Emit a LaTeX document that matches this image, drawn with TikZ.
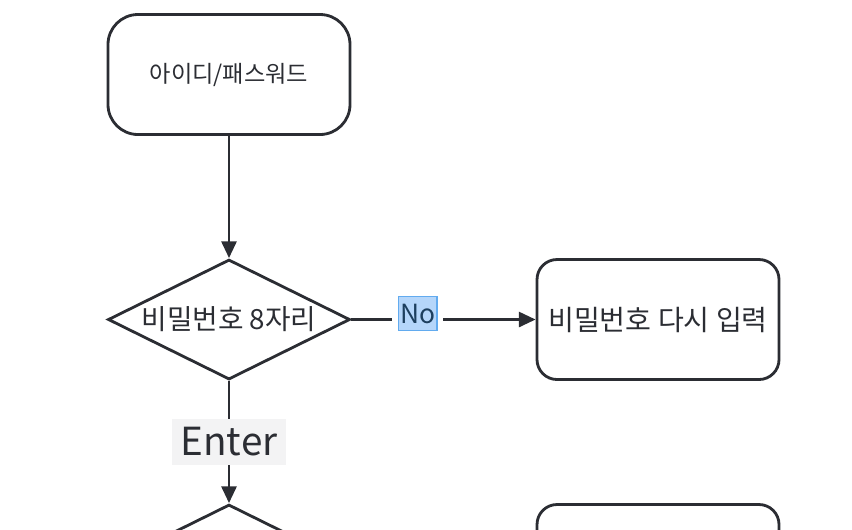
\documentclass[tikz,border=0pt]{standalone}
\usepackage{fontspec}
\setmainfont{Noto Sans CJK KR}
\usepackage{xcolor}
\usepackage{tikz}
\usetikzlibrary{positioning,shapes.geometric,arrows.meta}
\definecolor{ink}{HTML}{2B2D33}
\definecolor{nofill}{HTML}{B5D6FA}
\definecolor{noline}{HTML}{62ABEF}
\definecolor{notext}{HTML}{1D3F5E}
\definecolor{enterfill}{HTML}{F3F3F4}

\begin{document}
\begin{tikzpicture}[auto,color=ink,line width=1.6pt,>={Triangle[length=9.5pt,width=8.5pt]},
    every node/.style={on grid,node distance=4.9cm},
    box/.style={draw,rectangle,rounded corners=0.4cm,minimum width=4.84cm,minimum height=2.4cm,font=\fontsize{16}{18}\selectfont},
    test/.style={draw,diamond,aspect=2,inner sep=0pt,minimum width=4.84cm,minimum height=2.4cm,font=\fontsize{15.8}{18}\selectfont},
    notag/.style={auto=false,fill=nofill,draw=noline,line width=0.6pt,inner xsep=1pt,inner ysep=0pt,minimum height=0.68cm,
      text=notext,preaction={draw=white,line width=7pt},font=\fontsize{15}{17}\selectfont},
    entertag/.style={auto=false,fill=enterfill,inner xsep=5pt,minimum height=0.92cm,font=\fontsize{22}{24}\selectfont}]
    \useasboundingbox (0,0) rectangle (17.04,-10.58);
    \clip (0,0) rectangle (17.04,-10.58);
    \node[box,rounded corners=0.6cm,font=\fontsize{13.2}{15}\selectfont] (pw) at (4.58,-1.49) {아이디/패스워드};
    \node[test,below of=pw] (check) {비밀번호 8자리};
    \node[box,right of=check,node distance=8.58cm] (retry) {비밀번호 다시 입력};
    \node[test,below of=check] (next) {};
    \node[box,right of=next,node distance=8.58cm] (nextbox) {};
    \draw[->] (pw) -- (check);
    \draw[->] (check) -- node[notag,pos=0.36,yshift=0.12cm] {No} (retry);
    \draw[->] (check) -- node[entertag] {Enter} (next);
  \end{tikzpicture}
\end{document}
